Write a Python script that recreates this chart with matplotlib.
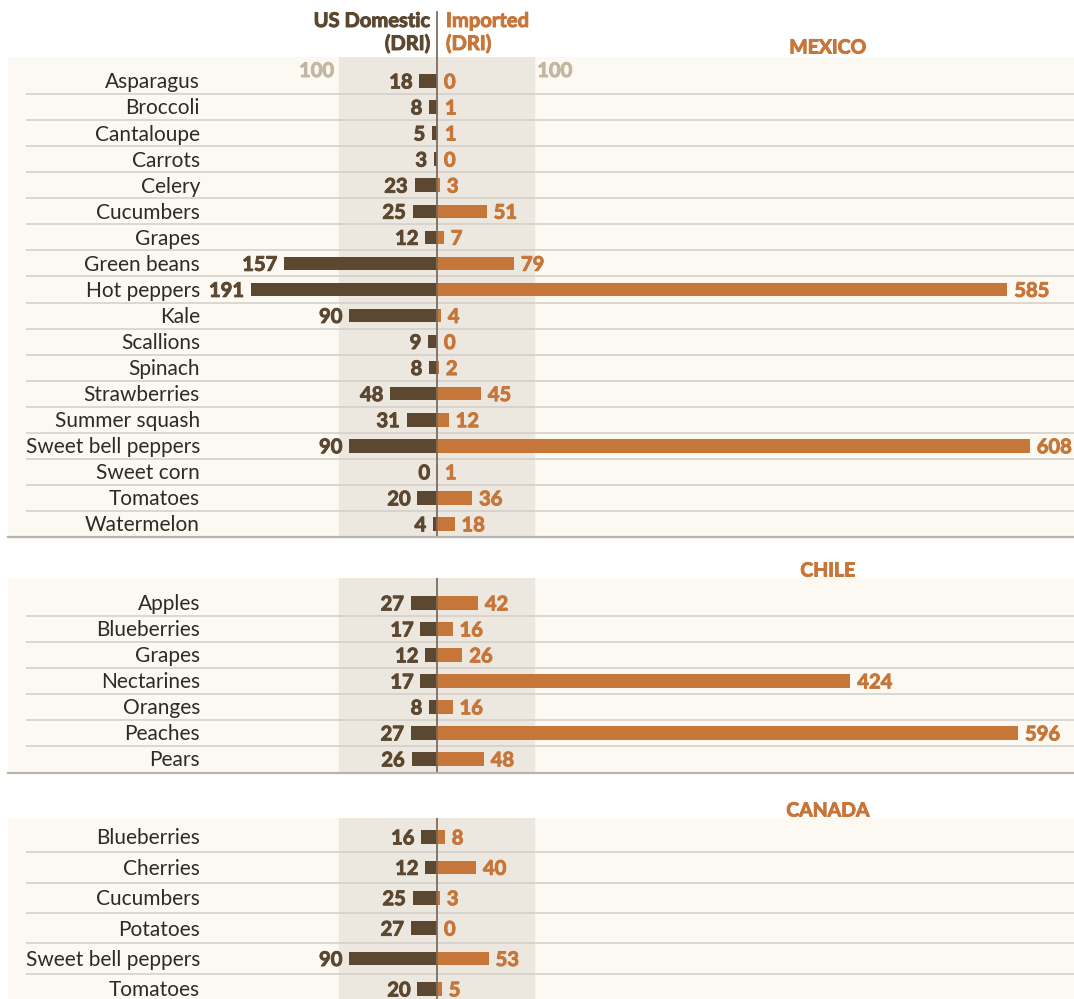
#!/usr/bin/env python3
"""Pesticide residue (DRI) — US domestic vs imported produce, by country of origin."""

import matplotlib
matplotlib.use("Agg")
import matplotlib.pyplot as plt
import matplotlib.patheffects as pe

plt.rcParams["font.family"] = ["Lato", "DejaVu Sans"]

# ---- data ---------------------------------------------------------------
mexico_items = ["Asparagus", "Broccoli", "Cantaloupe", "Carrots", "Celery",
                "Cucumbers", "Grapes", "Green beans", "Hot peppers", "Kale",
                "Scallions", "Spinach", "Strawberries", "Summer squash",
                "Sweet bell peppers", "Sweet corn", "Tomatoes", "Watermelon"]
mexico_dom = [18, 8, 5, 3, 23, 25, 12, 157, 191, 90, 9, 8, 48, 31, 90, 0, 20, 4]
mexico_imp = [0, 1, 1, 0, 3, 51, 7, 79, 585, 4, 0, 2, 45, 12, 608, 1, 36, 18]

chile_items = ["Apples", "Blueberries", "Grapes", "Nectarines", "Oranges",
               "Peaches", "Pears"]
chile_dom = [27, 17, 12, 17, 8, 27, 26]
chile_imp = [42, 16, 26, 424, 16, 596, 48]

canada_items = ["Blueberries", "Cherries", "Cucumbers", "Potatoes",
                "Sweet bell peppers", "Tomatoes"]
canada_dom = [16, 12, 25, 27, 90, 20]
canada_imp = [8, 40, 3, 0, 53, 5]

# ---- style --------------------------------------------------------------
DOM = "#5c4730"
IMP = "#c7763a"
CREAM = "#fcf9f3"
BAND = "#ece8df"
LABEL = "#2e2a26"
GRID = "#d2cdc7"
EDGE = "#b8b3ad"
AXIS = "#7d6d60"
HUNDRED = "#c4b6a2"

W, H = 1074, 999
PX = 0.975            # pixels per DRI unit
X0 = 437              # pixel position of zero
XMIN = (8 - X0) / PX
XMAX = (W - X0) / PX


def fy(px):
    return 1 - px / H


def heavy(color):
    # Lato Bold is a touch light next to the original, thicken it a bit
    return dict(fontweight="bold", color=color,
                path_effects=[pe.withStroke(linewidth=0.7, foreground=color)])


def draw_panel(fig, items, dom, imp, top, bottom, first_row, step):
    ax = fig.add_axes([8 / W, fy(bottom), (W - 8) / W, (bottom - top) / H])
    ax.set_facecolor(CREAM)
    ax.set_xlim(XMIN, XMAX)
    n = len(items)
    ax.set_ylim((bottom - first_row) / step, (top - first_row) / step)
    for s in ax.spines.values():
        s.set_visible(False)
    ax.set_xticks([])
    ax.set_yticks([])

    ax.axvspan(-100, 100, color=BAND, zorder=0)
    ax.hlines([i + 0.5 for i in range(n - 1)], (26 - X0) / PX, XMAX,
              color=GRID, lw=1.1, zorder=1)

    ys = list(range(n))
    bh = 13.5 / step
    ax.barh(ys, [-d for d in dom], height=bh, color=DOM, zorder=2)
    ax.barh(ys, imp, height=bh, color=IMP, zorder=2)

    for y, name, d, m in zip(ys, items, dom, imp):
        ax.annotate(name, ((200 - X0) / PX, y), xytext=(0, -1),
                    textcoords="offset points", ha="right", va="center",
                    fontsize=15, color=LABEL)
        ax.annotate(str(d), (-d, y), xytext=(-5, -1), textcoords="offset points",
                    ha="right", va="center", fontsize=14.5, **heavy(DOM))
        ax.annotate(str(m), (m, y), xytext=(5, -1), textcoords="offset points",
                    ha="left", va="center", fontsize=14.5, **heavy(IMP))
    return ax


def main():
    fig = plt.figure(figsize=(W / 100, H / 100), dpi=100)

    ax_mx = draw_panel(fig, mexico_items, mexico_dom, mexico_imp, 57, 537, 81, 26.06)
    ax_cl = draw_panel(fig, chile_items, chile_dom, chile_imp, 578, 773, 603, 26.0)
    ax_ca = draw_panel(fig, canada_items, canada_dom, canada_imp, 818, 1005, 837, 30.4)

    # zero line; the Mexico one runs up into the header
    ax_mx.axvline(0, ymin=0, ymax=1 + 45 / 480, color=AXIS, lw=1.3,
                  clip_on=False, zorder=3)
    ax_cl.axvline(0, color=AXIS, lw=1.3, zorder=3)
    ax_ca.axvline(0, color=AXIS, lw=1.3, zorder=3)

    # panel bottom rules
    for ax in (ax_mx, ax_cl):
        ax.axhline(ax.get_ylim()[0], color=EDGE, lw=1.6, clip_on=False, zorder=3)

    # 100 markers at the band edges
    y100 = (71 - 81) / 26.06
    ax_mx.annotate("100", (-100, y100), xytext=(-4, 0), textcoords="offset points",
                   ha="right", va="center", fontsize=14.5, **heavy(HUNDRED))
    ax_mx.annotate("100", (100, y100), xytext=(2, 0), textcoords="offset points",
                   ha="left", va="center", fontsize=14.5, **heavy(HUNDRED))

    # header
    fig.text(430 / W, fy(21), "US Domestic", ha="right", va="center",
             fontsize=14.5, **heavy(DOM))
    fig.text(430 / W, fy(44), "(DRI)", ha="right", va="center",
             fontsize=14.5, **heavy(DOM))
    fig.text(446 / W, fy(21), "Imported", ha="left", va="center",
             fontsize=14.5, **heavy(IMP))
    fig.text(446 / W, fy(44), "(DRI)", ha="left", va="center",
             fontsize=14.5, **heavy(IMP))

    # country titles
    for name, ypx in (("MEXICO", 48), ("CHILE", 571), ("CANADA", 811)):
        fig.text(828 / W, fy(ypx), name, ha="center", va="center",
                 fontsize=14, **heavy(IMP))

    fig.savefig("out.png", dpi=100, facecolor="white")
    plt.close(fig)


if __name__ == "__main__":
    main()
